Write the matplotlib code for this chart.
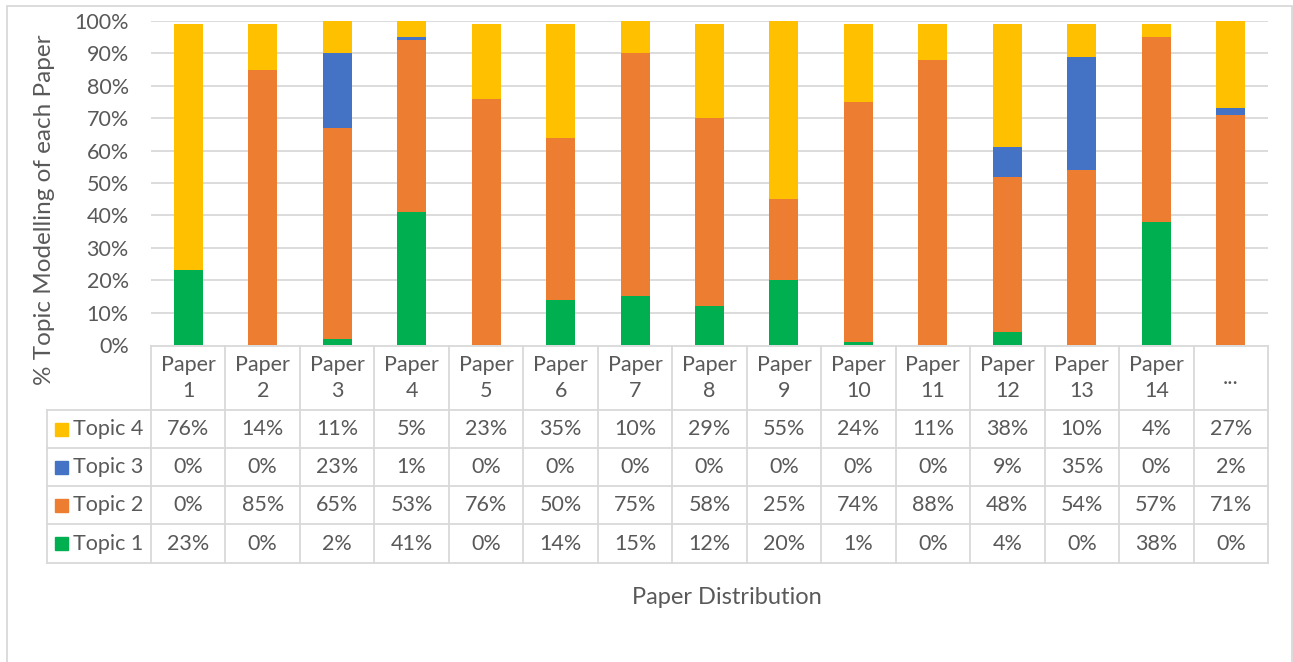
import numpy as np
import matplotlib
matplotlib.use("Agg")
import matplotlib.pyplot as plt
from matplotlib.patches import Rectangle
from matplotlib.transforms import blended_transform_factory

plt.rcParams['font.family'] = ['Lato', 'DejaVu Sans']

papers = ["Paper\n1", "Paper\n2", "Paper\n3", "Paper\n4", "Paper\n5", "Paper\n6",
          "Paper\n7", "Paper\n8", "Paper\n9", "Paper\n10", "Paper\n11", "Paper\n12",
          "Paper\n13", "Paper\n14", "..."]
topic1 = [23, 0, 2, 41, 0, 14, 15, 12, 20, 1, 0, 4, 0, 38, 0]
topic2 = [0, 85, 65, 53, 76, 50, 75, 58, 25, 74, 88, 48, 54, 57, 71]
topic3 = [0, 0, 23, 1, 0, 0, 0, 0, 0, 0, 0, 9, 35, 0, 2]
topic4 = [76, 14, 11, 5, 23, 35, 10, 29, 55, 24, 11, 38, 10, 4, 27]

series = [("Topic 1", topic1, "#00B050"),
          ("Topic 2", topic2, "#ED7D31"),
          ("Topic 3", topic3, "#4472C4"),
          ("Topic 4", topic4, "#FFC000")]

W, H = 1293, 662
TXT = "#595959"
GRID = "#D9D9D9"
FS = 15.5

fig = plt.figure(figsize=(W / 100, H / 100), dpi=100)
left, right, top, bottom = 151, 1268, 21, 345
ax = fig.add_axes([left / W, 1 - bottom / H, (right - left) / W, (bottom - top) / H])

x = np.arange(len(papers))
base = np.zeros(len(papers))
for name, vals, color in series:
    vals = np.array(vals, dtype=float)
    ax.bar(x, vals, 0.39, bottom=base, color=color, zorder=3)
    base += vals

ax.set_xlim(-0.5, len(papers) - 0.5)
ax.set_ylim(0, 100)
ax.set_yticks(np.arange(0, 101, 10))
ax.set_yticklabels([f"{v}%" for v in range(0, 101, 10)], color=TXT, fontsize=FS)
ax.tick_params(axis='y', length=0, pad=16)
ax.set_xticks([])
for s in ax.spines.values():
    s.set_visible(False)
for v in range(10, 101, 10):
    ax.axhline(v, color=GRID, lw=1.3, zorder=1)

fig.text(45 / W, 1 - 210 / H, "% Topic Modelling of each Paper", rotation=90,
         ha='center', va='center', color=TXT, fontsize=17.5)

# data table below the plot
trans = blended_transform_factory(ax.transData, ax.transAxes)
ph = bottom - top


def ya(ypix):
    return (bottom - ypix) / ph


col_w = (right - left) / len(papers)
x_leg = -0.5 - (left - 47) / col_w
rows_y = [346, 410, 448, 486, 524, 563]
lw = 1.3

# horizontal lines
ax.plot([-0.5, len(papers) - 0.5], [ya(rows_y[0])] * 2, color=GRID, lw=lw,
        transform=trans, clip_on=False)
for yp in rows_y[1:]:
    ax.plot([x_leg, len(papers) - 0.5], [ya(yp)] * 2, color=GRID, lw=lw,
            transform=trans, clip_on=False)
# vertical lines
for i in range(len(papers) + 1):
    ax.plot([i - 0.5, i - 0.5], [ya(rows_y[0]), ya(rows_y[-1])], color=GRID, lw=lw,
            transform=trans, clip_on=False)
ax.plot([x_leg, x_leg], [ya(rows_y[1]), ya(rows_y[-1])], color=GRID, lw=lw,
        transform=trans, clip_on=False)

# header
for i, p in enumerate(papers):
    ax.text(i, ya((rows_y[0] + rows_y[1]) / 2), p, ha='center', va='center',
            color=TXT, fontsize=FS, linespacing=1.35, transform=trans)

# rows: top row is Topic 4
for r, (name, vals, color) in enumerate(series[::-1]):
    yc = ya((rows_y[r + 1] + rows_y[r + 2]) / 2)
    sw = 13 / col_w
    ax.add_patch(Rectangle((x_leg + 8 / col_w, yc - 6.5 / ph), sw, 13 / ph, color=color,
                           transform=trans, clip_on=False))
    ax.text(x_leg + 26 / col_w, yc, name, ha='left', va='center', color=TXT,
            fontsize=FS, transform=trans)
    for i, v in enumerate(vals):
        ax.text(i, yc, f"{v}%", ha='center', va='center', color=TXT, fontsize=FS,
                transform=trans)

fig.text(727 / W, 1 - 598 / H, "Paper Distribution", ha='center', va='center',
         color=TXT, fontsize=17)

# chart border
fig.patches.append(Rectangle((7 / W, -0.01), (1292 - 7) / W, (H - 6) / H + 0.01,
                             fill=False, edgecolor=GRID, lw=1.3, transform=fig.transFigure))

fig.savefig("out.png", dpi=100, facecolor="white")
